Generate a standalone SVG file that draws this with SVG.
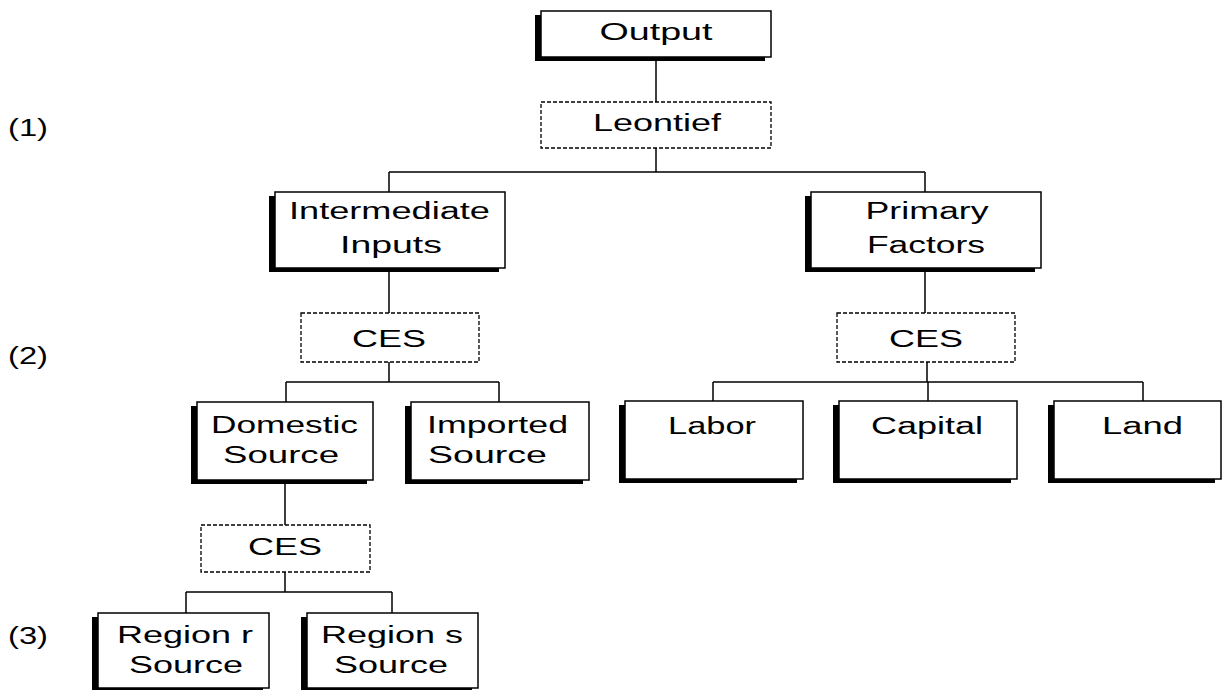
<svg xmlns="http://www.w3.org/2000/svg" width="1225" height="690" viewBox="0 0 1225 690">
<style>
.shadow{fill:#000}
.box{fill:#fff;stroke:#000;stroke-width:1.5}
.dbox{fill:#fff;stroke:#000;stroke-width:1.3;stroke-dasharray:4 2}
text{font-family:"Liberation Sans",Arial,sans-serif;font-size:23px;fill:#000;text-anchor:middle}
.lbl{text-anchor:start}
.conn{stroke:#000;stroke-width:1.5;fill:none}
</style>
<rect width="1225" height="690" fill="#fff"/>
<g id="connectors">
<path class="conn" d="M656 57V102M656 148V172M389 172H925M389 172V192M925 172V192M389 268V313M925 268V313M389 362V382M286 382H499M286 382V402M499 382V402M927 362V382M713 382H1143M713 382V402M928 382V402M1143 382V402M285 480V525M285 572V592M186 592H392M186 592V613M392 592V613"/>
</g>
<g id="levels">
<text class="lbl" x="8" y="136" textLength="40" lengthAdjust="spacingAndGlyphs">(1)</text>
<text class="lbl" x="8" y="364" textLength="40" lengthAdjust="spacingAndGlyphs">(2)</text>
<text class="lbl" x="8" y="644" textLength="40" lengthAdjust="spacingAndGlyphs">(3)</text>
</g>
<g id="output">
<rect class="shadow" x="535" y="15" width="230" height="46"/>
<rect class="box" x="541" y="11" width="230" height="46"/>
<text x="656" y="40" textLength="113" lengthAdjust="spacingAndGlyphs">Output</text>
</g>
<g id="leontief">
<rect class="dbox" x="541" y="102" width="230" height="46"/>
<text x="657" y="131" textLength="128" lengthAdjust="spacingAndGlyphs">Leontief</text>
</g>
<g id="intermediate">
<rect class="shadow" x="269" y="196" width="230" height="76"/>
<rect class="box" x="275" y="192" width="230" height="76"/>
<text x="389.5" y="219" textLength="201" lengthAdjust="spacingAndGlyphs">Intermediate</text>
<text x="391" y="253" textLength="102" lengthAdjust="spacingAndGlyphs">Inputs</text>
</g>
<g id="primary">
<rect class="shadow" x="805" y="196" width="230" height="76"/>
<rect class="box" x="811" y="192" width="230" height="76"/>
<text x="927" y="219" textLength="123" lengthAdjust="spacingAndGlyphs">Primary</text>
<text x="926" y="253" textLength="118" lengthAdjust="spacingAndGlyphs">Factors</text>
</g>
<g id="ces-intermediate">
<rect class="dbox" x="301" y="313" width="178" height="49"/>
<text x="389" y="347" textLength="74" lengthAdjust="spacingAndGlyphs">CES</text>
</g>
<g id="ces-primary">
<rect class="dbox" x="837" y="313" width="178" height="49"/>
<text x="926" y="347" textLength="74" lengthAdjust="spacingAndGlyphs">CES</text>
</g>
<g id="domestic">
<rect class="shadow" x="191" y="406" width="176" height="78"/>
<rect class="box" x="197" y="402" width="176" height="78"/>
<text x="284.5" y="433" textLength="147" lengthAdjust="spacingAndGlyphs">Domestic</text>
<text x="281" y="463" textLength="116" lengthAdjust="spacingAndGlyphs">Source</text>
</g>
<g id="imported">
<rect class="shadow" x="405" y="406" width="178" height="78"/>
<rect class="box" x="411" y="402" width="178" height="78"/>
<text x="497.5" y="433" textLength="141" lengthAdjust="spacingAndGlyphs">Imported</text>
<text x="487.5" y="463" textLength="119" lengthAdjust="spacingAndGlyphs">Source</text>
</g>
<g id="labor">
<rect class="shadow" x="619" y="405" width="178" height="78"/>
<rect class="box" x="625" y="401" width="178" height="78"/>
<text x="712" y="434" textLength="88" lengthAdjust="spacingAndGlyphs">Labor</text>
</g>
<g id="capital">
<rect class="shadow" x="833" y="405" width="178" height="78"/>
<rect class="box" x="839" y="401" width="178" height="78"/>
<text x="927" y="434" textLength="112" lengthAdjust="spacingAndGlyphs">Capital</text>
</g>
<g id="land">
<rect class="shadow" x="1048" y="405" width="167" height="78"/>
<rect class="box" x="1054" y="401" width="167" height="78"/>
<text x="1142.5" y="434" textLength="81" lengthAdjust="spacingAndGlyphs">Land</text>
</g>
<g id="ces-domestic">
<rect class="dbox" x="201" y="525" width="169" height="47"/>
<text x="285" y="555" textLength="74" lengthAdjust="spacingAndGlyphs">CES</text>
</g>
<g id="region-r">
<rect class="shadow" x="92" y="617" width="171" height="76"/>
<rect class="box" x="98" y="613" width="171" height="75"/>
<text x="185" y="643" textLength="136" lengthAdjust="spacingAndGlyphs">Region r</text>
<text x="186" y="673" textLength="114" lengthAdjust="spacingAndGlyphs">Source</text>
</g>
<g id="region-s">
<rect class="shadow" x="301" y="617" width="171" height="76"/>
<rect class="box" x="307" y="613" width="171" height="75"/>
<text x="392" y="643" textLength="142" lengthAdjust="spacingAndGlyphs">Region s</text>
<text x="391" y="673" textLength="114" lengthAdjust="spacingAndGlyphs">Source</text>
</g>
</svg>
